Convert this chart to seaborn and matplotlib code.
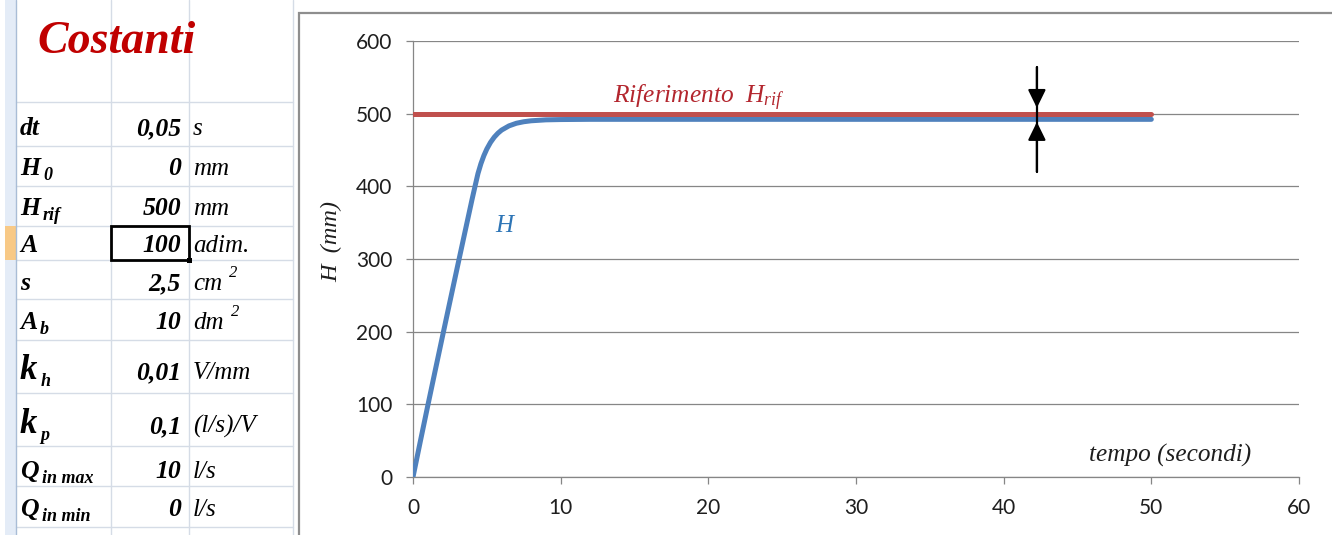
import matplotlib
matplotlib.use("Agg")
import matplotlib.pyplot as plt
from matplotlib.patches import Rectangle
import pandas as pd
import seaborn as sns

# ---- simulation output: tank level H (mm) vs time (s) ----
tempo = [0, 0.5, 1, 1.5, 2, 2.5, 3, 3.5, 4, 4.2, 4.4, 4.6, 4.8, 5.0, 5.25,
         5.5, 5.75, 6.0, 6.5, 7.0, 7.5, 8.0, 9.0, 10, 12, 15, 20, 25, 30,
         35, 40, 45, 50]
livello = [0, 49.4, 98.1, 146.1, 193.9, 241.3, 288.5, 335.4, 382.1, 400,
           417.6, 431.2, 442.3, 451.4, 460.5, 467.6, 473.1, 477.4, 483.2,
           486.8, 488.9, 490.2, 491.5, 491.9, 492.2, 492.2, 492.2, 492.2,
           492.2, 492.2, 492.2, 492.2, 492.2]

# reference level
tempo_rif = [0, 50]
livello_rif = [500, 500]

# steady-state error marker
t_errore = 42.25
errore_sopra = [564, 508]   # shaft top, arrow tip above the reference line
errore_sotto = [420, 488.5]  # shaft bottom, arrow tip below the level curve

x_ticks = [0, 10, 20, 30, 40, 50, 60]
y_ticks = [0, 100, 200, 300, 400, 500, 600]

# ---- constants table ----
nomi = ["dt", "H", "H", "A", "s", "A", "k", "k", "Q", "Q"]
pedici = ["", "0", "rif", "", "", "b", "h", "p", "in max", "in min"]
valori = ["0,05", "0", "500", "100", "2,5", "10", "0,01", "0,1", "10", "0"]
unita = ["s", "mm", "mm", "adim.", "cm", "dm", "V/mm", "(l/s)/V", "l/s", "l/s"]
esponenti = ["", "", "", "", "2", "2", "", "", "", ""]

sns.set_theme(style="white")
plt.rcParams["font.family"] = ["Lato", "DejaVu Sans"]
plt.rcParams["mathtext.fontset"] = "custom"
plt.rcParams["mathtext.rm"] = "Liberation Serif"
plt.rcParams["mathtext.it"] = "Liberation Serif:italic"

W, H = 1332, 535
fig = plt.figure(figsize=(W / 100, H / 100), dpi=100, facecolor="white")

# sheet background layer in pixel coordinates
bg = fig.add_axes([0, 0, 1, 1], zorder=0)
bg.set_xlim(0, W)
bg.set_ylim(H, 0)
bg.axis("off")

grid_c = "#D5DCE6"
row_lines = [102, 146, 186, 226, 260, 299, 340, 393, 446, 486, 527]
for y in row_lines:
    bg.plot([16, 293], [y, y], color=grid_c, lw=1.0)
for x in [111, 189, 293]:
    bg.plot([x, x], [0, H], color=grid_c, lw=1.0)
# row header strip
bg.add_patch(Rectangle((5, 0), 11, H, facecolor="#E4ECF7", edgecolor="none"))
bg.add_patch(Rectangle((5, 226), 11, 34, facecolor="#F8C986", edgecolor="none"))
bg.plot([16, 16], [0, H], color="#A9BDD6", lw=1.0)

# active cell
bg.add_patch(Rectangle((111, 226), 78, 34, facecolor="none",
                       edgecolor="black", lw=2.0, zorder=3))
bg.add_patch(Rectangle((187, 258), 5, 5, facecolor="black", edgecolor="none",
                       zorder=3))

serif = "Liberation Serif"
bg.text(37, 53, "Costanti", family=serif, weight="bold", style="italic",
        size=33, color="#C00000", va="baseline")

baselines = [135, 175, 215, 252, 290, 329, 379, 433, 478, 516]
fig.canvas.draw()
rend = fig.canvas.get_renderer()
inv = bg.transData.inverted()
for i, (n, p, v, u, e) in enumerate(zip(nomi, pedici, valori, unita, esponenti)):
    yb = baselines[i]
    big = n == "k"
    t = bg.text(20, yb, n, family=serif, weight="bold", style="italic",
                size=25 if big else 18.5, va="baseline", color="black")
    if p:
        ext = t.get_window_extent(renderer=rend)
        x1 = inv.transform((ext.x1, ext.y0))[0]
        bg.text(x1 + 3, yb + (7 if big else 5), p, family=serif, weight="bold",
                style="italic", size=13, va="baseline", color="black")
    bg.text(181, yb, v, family=serif, weight="bold", style="italic", size=18.5,
            va="baseline", ha="right", color="black")
    tu = bg.text(193, yb, u, family=serif, style="italic", size=18,
                 va="baseline", color="black")
    if e:
        ext = tu.get_window_extent(renderer=rend)
        x1 = inv.transform((ext.x1, ext.y0))[0]
        bg.text(x1 + 7, yb - 13, e, family=serif, style="italic", size=12,
                va="baseline", color="black")

# chart area frame
bg.add_patch(Rectangle((299, 13), W, H, facecolor="white",
                       edgecolor="#8E8E8E", lw=1.6))

# ---- chart ----
L, R, T, B = 413, 1299, 41, 477
ax = fig.add_axes([L / W, (H - B) / H, (R - L) / W, (B - T) / H], zorder=2)
ax.set_facecolor("none")

df = pd.DataFrame({"tempo": tempo, "H": livello})
df_rif = pd.DataFrame({"tempo": tempo_rif, "H": livello_rif})
sns.lineplot(data=df, x="tempo", y="H", ax=ax, color="#4F81BD", lw=3.6,
             estimator=None, solid_capstyle="round", zorder=3)
sns.lineplot(data=df_rif, x="tempo", y="H", ax=ax, color="#C0504D", lw=3.6,
             estimator=None, solid_capstyle="round", zorder=3)

ax.set_xlim(0, 60)
ax.set_ylim(0, 600)
ax.set_xticks(x_ticks)
ax.set_yticks(y_ticks)
ax.set_xlabel("")
ax.set_ylabel("")
ax.yaxis.grid(True, color="#868686", lw=0.9)
ax.xaxis.grid(False)
ax.set_axisbelow(True)
for s in ["top", "right"]:
    ax.spines[s].set_visible(False)
for s in ["left", "bottom"]:
    ax.spines[s].set_color("#868686")
    ax.spines[s].set_linewidth(0.9)
ax.tick_params(axis="both", direction="out", length=5, width=0.9,
               color="#868686", labelsize=15, labelcolor="#1E1E1E", pad=10)
ax.tick_params(axis="y", left=True)
ax.tick_params(axis="x", bottom=True)

# steady-state error arrows
ax.plot([t_errore, t_errore], [errore_sotto[0], errore_sopra[0]], color="black",
        lw=1.6, zorder=4)
ax.annotate("", xy=(t_errore, errore_sopra[1]), xytext=(t_errore, errore_sopra[0]),
            arrowprops=dict(arrowstyle="-|>,head_length=0.55,head_width=0.27",
                            mutation_scale=20, color="black", lw=1.6,
                            shrinkA=0, shrinkB=0), zorder=5)
ax.annotate("", xy=(t_errore, errore_sotto[1]), xytext=(t_errore, errore_sotto[0]),
            arrowprops=dict(arrowstyle="-|>,head_length=0.55,head_width=0.27",
                            mutation_scale=20, color="black", lw=1.6,
                            shrinkA=0, shrinkB=0), zorder=5)

ax.text(13.54, 514.7, r"Riferimento  $H_{rif}$", family=serif, style="italic",
        size=18.3, color="#B3262E", ha="left", va="baseline")
ax.text(6.16, 345, "H", family=serif, style="italic", size=18,
        color="#2E75B6", ha="center", va="center")
ax.text(51.3, 30, "tempo (secondi)", family=serif, style="italic", size=18.2,
        color="#1E1E1E", ha="center", va="center")
ax.text(-0.092, 0.541, "H  (mm)", transform=ax.transAxes, family=serif,
        style="italic", size=17.5, color="#1E1E1E", rotation=90,
        ha="center", va="center")

fig.savefig("out.png", dpi=100, facecolor="white")
